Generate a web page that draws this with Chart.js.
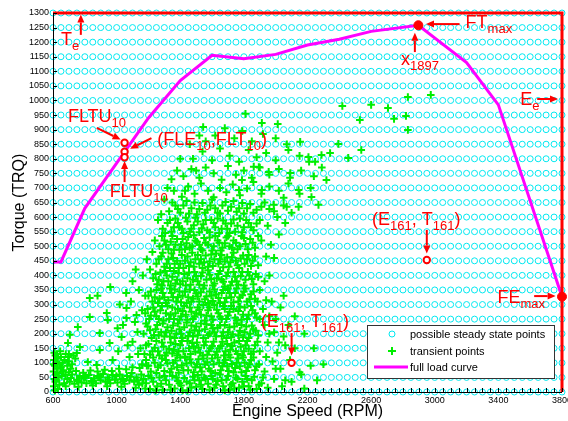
<!DOCTYPE html>
<html>
<head>
<meta charset="utf-8">
<script src="https://cdn.jsdelivr.net/npm/chart.js@4.4.1/dist/chart.umd.min.js"></script>
<style>
  html, body { margin: 0; padding: 0; background: #fff; }
  #wrap { width: 568px; height: 421px; }
</style>
</head>
<body>
<div id="wrap"><canvas id="torqueMap"></canvas></div>
<script>
// possible steady state points (grid)
const gridRpm = [600, 650, 700, 750, 800, 850, 900, 950, 1000, 1050, 1100, 1150, 1200, 1250, 1300, 1350,
    1400, 1450, 1500, 1550, 1600, 1650, 1700, 1750, 1800, 1850, 1900, 1950, 2000, 2050, 2100, 2150, 2200,
    2250, 2300, 2350, 2400, 2450, 2500, 2550, 2600, 2650, 2700, 2750, 2800, 2850, 2900, 2950, 3000, 3050,
    3100, 3150, 3200, 3250, 3300, 3350, 3400, 3450, 3500, 3550, 3600, 3650, 3700, 3750, 3800];
const gridTrq = [0, 50, 100, 150, 200, 250, 300, 350, 400, 450, 500, 550, 600, 650, 700, 750, 800, 850,
    900, 950, 1000, 1050, 1100, 1150, 1200, 1250, 1300];

// full load curve
const fullLoadRpm = [600, 650, 800, 1000, 1200, 1400, 1600, 1800, 2000, 2200, 2400, 2600, 2897, 3200, 3400, 3800];
const fullLoadTrq = [446, 446, 630, 785, 940, 1068, 1155, 1143, 1158, 1190, 1210, 1237, 1258, 1130, 985, 327];

// engine limits Te / Ee
const limitRpm = [600, 3800, 3800];
const limitTrq = [1300, 1300, 0];

// marked points
const openMarks = [[1050, 855], [1050, 824], [1050, 805], [2950, 453], [2100, 100]];
const filledMarks = [[2897, 1258], [3800, 327]];

const xTickLabels = [600, 1000, 1400, 1800, 2200, 2600, 3000, 3400, 3800];

// transient points [rpm, torque]
const transientPoints = [
    // left strip near idle
    [605, 20], [610, 45], [603, 70], [612, 90], [606, 110], [615, 125], [620, 100], [625, 80], [608, 135],
    [630, 115], [640, 95], [618, 60], [650, 120], [660, 100], [645, 140], [672, 110], [690, 90], [700, 105],
    [612, 5], [630, 10], [680, 130], [665, 75], [700, 130], [720, 95], [740, 115], [615, 35],
    [622, 130], [635, 50], [650, 85], [678, 60], [695, 120], [710, 80], [728, 125], [604, 95],
    // floor band
    [620, 40], [640, 25], [655, 55], [670, 30], [690, 45], [705, 35], [720, 60], [735, 28], [750, 42],
    [768, 55], [780, 33], [795, 48], [810, 30], [825, 58], [840, 38], [858, 47], [870, 30], [885, 55],
    [900, 40], [915, 62], [930, 35], [945, 50], [960, 30], [975, 58], [990, 42], [1005, 33], [1020, 60],
    [1035, 45], [1050, 28], [1065, 55], [1080, 40], [1095, 65], [1110, 35], [1125, 50], [1140, 25],
    [1155, 60], [1170, 45], [1185, 30], [1200, 55],
    [630, 65], [660, 70], [700, 68], [745, 72], [790, 66], [835, 74], [880, 70], [925, 76], [970, 72],
    [1015, 80], [1060, 78], [1100, 85], [1145, 82], [1190, 90],
    [680, 20], [760, 18], [850, 22], [940, 20], [1030, 18], [1120, 15], [1180, 12],
    [712, 48], [758, 38], [802, 52], [848, 35], [892, 50], [952, 42], [998, 55], [1042, 38], [1088, 52],
    [1132, 40], [1162, 30],
    // sparse low speed
    [756, 223], [831, 257], [894, 202], [706, 196], [769, 154], [819, 103], [894, 144], [956, 168],
    [1006, 219], [1062, 254], [944, 247], [1031, 189], [1100, 172], [1081, 120], [975, 110], [1131, 206],
    [694, 168], [750, 134], [875, 93], [938, 271], [1062, 288], [1125, 264], [880, 330], [960, 360],
    [1020, 300], [1060, 340], [1100, 380], [1120, 420], [831, 322],
    [1010, 140], [1040, 230], [1070, 160], [1090, 310], [1115, 240], [1135, 130], [1140, 350], [1160, 280],
    [1165, 400], [1180, 330], [1190, 455], [1210, 420], [1225, 480], [1240, 520],
    // core 0-60
    [1210, 10], [1230, 35], [1255, 20], [1270, 50], [1290, 8], [1310, 40], [1330, 25], [1350, 55],
    [1365, 12], [1385, 38], [1405, 22], [1425, 48], [1445, 5], [1460, 30], [1480, 52], [1500, 18],
    [1520, 40], [1540, 10], [1560, 45], [1575, 28], [1595, 55], [1615, 15], [1635, 38], [1650, 60],
    [1670, 20], [1690, 42], [1710, 8], [1730, 30], [1750, 50], [1770, 15], [1790, 35], [1810, 55],
    [1830, 20], [1850, 40], [1880, 10], [1910, 30], [1950, 15], [1990, 45], [2040, 20], [2100, 35], [2180, 12],
    [1220, 48], [1245, 5], [1280, 28], [1300, 55], [1340, 8], [1375, 50], [1395, 30], [1415, 5], [1440, 35],
    [1470, 15], [1490, 40], [1510, 58], [1530, 25], [1550, 50], [1585, 8], [1605, 45], [1625, 25], [1660, 40],
    [1680, 5], [1700, 55], [1720, 25], [1740, 12], [1760, 45], [1800, 20], [1820, 45], [1840, 8], [1865, 52],
    [1895, 25],
    // core 60-120
    [1160, 95], [1185, 110], [1215, 70], [1240, 100], [1260, 85], [1285, 115], [1300, 72], [1320, 98],
    [1345, 80], [1370, 108], [1390, 66], [1410, 92], [1430, 118], [1450, 75], [1470, 100], [1495, 85],
    [1515, 112], [1535, 70], [1555, 95], [1580, 80], [1600, 115], [1620, 65], [1645, 100], [1665, 88],
    [1685, 110], [1705, 72], [1725, 96], [1745, 82], [1765, 115], [1785, 68], [1805, 100], [1825, 85],
    [1845, 110], [1870, 75], [1895, 95], [1930, 70], [1980, 105], [2030, 80], [2090, 110], [2150, 68], [2220, 90],
    [1200, 90], [1230, 118], [1250, 65], [1275, 92], [1310, 110], [1335, 68], [1355, 100], [1380, 85],
    [1400, 118], [1420, 75], [1440, 98], [1460, 112], [1485, 68], [1505, 95], [1525, 85], [1545, 115],
    [1570, 102], [1590, 72], [1610, 95], [1635, 118], [1655, 75], [1675, 100], [1695, 88], [1715, 118],
    [1735, 68], [1755, 100], [1775, 88], [1795, 118], [1815, 72], [1835, 95], [1860, 118], [1880, 88],
    // core 120-180
    [1150, 150], [1175, 130], [1200, 165], [1225, 140], [1250, 175], [1270, 125], [1295, 155], [1315, 135],
    [1340, 170], [1360, 145], [1380, 125], [1400, 160], [1420, 140], [1445, 175], [1465, 130], [1485, 155],
    [1505, 170], [1525, 135], [1550, 160], [1570, 128], [1590, 150], [1610, 172], [1630, 138], [1655, 158],
    [1675, 125], [1695, 165], [1715, 145], [1740, 170], [1760, 130], [1780, 155], [1800, 140], [1820, 175],
    [1845, 130], [1870, 160], [1900, 140], [1950, 170], [2010, 135], [2060, 160], [2120, 150],
    [1185, 160], [1210, 128], [1240, 152], [1260, 140], [1285, 170], [1305, 125], [1330, 148], [1350, 132],
    [1370, 165], [1390, 140], [1410, 175], [1430, 122], [1455, 150], [1475, 168], [1495, 138], [1515, 152],
    [1540, 125], [1560, 172], [1580, 140], [1600, 158], [1620, 128], [1645, 150], [1665, 172], [1685, 140],
    [1705, 128], [1725, 158], [1750, 140], [1770, 175], [1790, 125], [1810, 160], [1830, 148], [1860, 138],
    [1885, 172],
    // core 180-240
    [1170, 200], [1195, 225], [1220, 185], [1245, 215], [1265, 195], [1290, 235], [1310, 205], [1335, 190],
    [1355, 228], [1375, 200], [1395, 215], [1415, 185], [1440, 238], [1460, 205], [1480, 190], [1500, 225],
    [1520, 210], [1545, 185], [1565, 232], [1585, 200], [1605, 218], [1625, 190], [1650, 228], [1670, 205],
    [1690, 185], [1710, 222], [1730, 198], [1755, 236], [1775, 210], [1795, 188], [1815, 225], [1840, 200],
    [1860, 215], [1890, 195], [1930, 230], [1990, 205], [2050, 190],
    [1185, 235], [1210, 212], [1235, 195], [1255, 230], [1280, 205], [1300, 190], [1320, 222], [1345, 210],
    [1365, 185], [1385, 235], [1405, 200], [1425, 222], [1450, 192], [1470, 228], [1490, 212], [1510, 195],
    [1530, 235], [1555, 215], [1575, 195], [1595, 230], [1615, 205], [1635, 220], [1660, 192], [1680, 230],
    [1700, 205], [1720, 188], [1740, 225], [1765, 195], [1785, 230], [1805, 205], [1830, 185], [1850, 228],
    [1875, 210],
    // core 240-300
    [1180, 270], [1205, 250], [1230, 290], [1250, 260], [1275, 280], [1295, 245], [1320, 295], [1340, 265],
    [1360, 250], [1385, 285], [1405, 260], [1425, 295], [1445, 248], [1470, 275], [1490, 258], [1510, 290],
    [1530, 265], [1555, 245], [1575, 280], [1595, 260], [1615, 298], [1640, 270], [1660, 250], [1680, 285],
    [1700, 262], [1720, 295], [1745, 255], [1765, 278], [1785, 248], [1805, 290], [1830, 265], [1855, 280],
    [1880, 255], [1920, 285], [1960, 260],
    [1195, 285], [1215, 262], [1240, 275], [1265, 250], [1285, 295], [1310, 270], [1330, 250], [1350, 290],
    [1370, 270], [1395, 248], [1415, 278], [1435, 265], [1460, 290], [1480, 250], [1500, 270], [1520, 282],
    [1545, 298], [1565, 262], [1585, 290], [1605, 248], [1630, 282], [1650, 258], [1670, 295], [1690, 250],
    [1710, 275], [1735, 285], [1755, 245], [1775, 292], [1795, 265], [1820, 250], [1845, 295], [1870, 270],
    [1900, 250],
    // core 300-360
    [1200, 330], [1225, 310], [1250, 350], [1270, 320], [1290, 340], [1310, 305], [1335, 355], [1355, 325],
    [1375, 310], [1395, 345], [1415, 330], [1440, 305], [1460, 352], [1480, 320], [1500, 338], [1520, 310],
    [1545, 355], [1565, 328], [1585, 345], [1605, 312], [1625, 335], [1650, 305], [1670, 350], [1690, 322],
    [1710, 340], [1735, 308], [1755, 355], [1775, 325], [1800, 345], [1820, 310], [1845, 335], [1870, 320],
    [1900, 350], [1940, 315],
    [1215, 345], [1240, 325], [1260, 305], [1280, 355], [1300, 325], [1325, 315], [1345, 340], [1365, 352],
    [1385, 325], [1405, 308], [1430, 345], [1450, 325], [1470, 310], [1490, 350], [1510, 328], [1530, 342],
    [1555, 318], [1575, 305], [1595, 330], [1615, 352], [1640, 322], [1660, 340], [1680, 308], [1700, 355],
    [1720, 325], [1745, 340], [1765, 310], [1790, 332], [1810, 355], [1835, 318], [1860, 345], [1885, 310],
    // core 360-420
    [1230, 390], [1255, 370], [1275, 410], [1295, 380], [1315, 400], [1340, 365], [1360, 415], [1380, 385],
    [1400, 370], [1425, 405], [1445, 390], [1465, 368], [1490, 412], [1510, 380], [1530, 398], [1550, 365],
    [1575, 418], [1595, 388], [1615, 372], [1640, 405], [1660, 385], [1680, 362], [1700, 410], [1725, 378],
    [1745, 395], [1765, 368], [1790, 412], [1810, 385], [1835, 400], [1860, 370], [1890, 395], [1930, 380],
    [1245, 405], [1265, 385], [1285, 365], [1305, 415], [1325, 380], [1350, 395], [1370, 372], [1390, 408],
    [1415, 380], [1435, 365], [1455, 410], [1480, 385], [1500, 398], [1520, 368], [1540, 410], [1565, 385],
    [1585, 402], [1605, 365], [1630, 390], [1650, 415], [1670, 378], [1690, 398], [1715, 365], [1735, 412],
    [1755, 380], [1780, 398], [1800, 365], [1825, 412], [1850, 388], [1875, 405],
    // core 420-480
    [1250, 440], [1280, 465], [1300, 430], [1325, 455], [1345, 475], [1365, 440], [1390, 425], [1410, 470],
    [1430, 450], [1455, 432], [1475, 478], [1495, 455], [1520, 440], [1540, 425], [1560, 468], [1585, 448],
    [1605, 432], [1625, 475], [1650, 455], [1670, 428], [1695, 462], [1715, 445], [1735, 478], [1760, 435],
    [1780, 458], [1805, 440], [1830, 470], [1855, 450], [1890, 435], [1940, 465],
    [1265, 455], [1290, 478], [1315, 440], [1335, 425], [1355, 460], [1380, 450], [1400, 440], [1420, 425],
    [1445, 465], [1465, 445], [1485, 430], [1510, 470], [1530, 455], [1550, 445], [1575, 430], [1595, 472],
    [1615, 455], [1640, 440], [1660, 470], [1680, 448], [1705, 430], [1725, 462], [1750, 450], [1770, 425],
    [1795, 468], [1820, 455], [1845, 432], [1870, 465],
    // core 480-540
    [1270, 500], [1300, 520], [1325, 490], [1350, 535], [1370, 505], [1395, 488], [1415, 525], [1440, 510],
    [1460, 495], [1485, 538], [1505, 515], [1530, 490], [1550, 528], [1575, 505], [1600, 485], [1620, 535],
    [1645, 512], [1665, 495], [1690, 530], [1710, 500], [1735, 520], [1760, 490], [1785, 535], [1810, 508],
    [1840, 525], [1870, 495], [1910, 520], [1970, 505],
    [1285, 535], [1310, 505], [1340, 515], [1360, 488], [1380, 525], [1405, 505], [1430, 490], [1450, 532],
    [1475, 500], [1495, 520], [1520, 505], [1540, 485], [1560, 512], [1585, 530], [1610, 500], [1635, 520],
    [1655, 485], [1680, 510], [1700, 535], [1725, 495], [1750, 512], [1775, 500], [1800, 528], [1825, 490],
    [1855, 512], [1890, 535],
    // core 540-600
    [1290, 560], [1320, 580], [1345, 550], [1370, 595], [1395, 565], [1420, 545], [1445, 585], [1470, 560],
    [1495, 598], [1520, 548], [1545, 575], [1570, 555], [1595, 590], [1620, 565], [1645, 545], [1670, 588],
    [1695, 560], [1720, 578], [1745, 550], [1775, 595], [1800, 565], [1830, 580], [1860, 555], [1900, 590],
    [1950, 570], [2010, 600],
    [1305, 545], [1335, 590], [1360, 565], [1385, 580], [1410, 560], [1435, 598], [1460, 550], [1485, 572],
    [1510, 585], [1535, 562], [1560, 590], [1585, 548], [1610, 580], [1635, 595], [1660, 560], [1685, 578],
    [1710, 545], [1735, 592], [1760, 570], [1790, 548], [1815, 590], [1845, 565], [1880, 578],
    // upper 600-660
    [1330, 620], [1370, 640], [1400, 615], [1440, 655], [1470, 630], [1505, 610], [1540, 648], [1570, 625],
    [1600, 660], [1635, 615], [1665, 640], [1700, 622], [1735, 655], [1770, 630], [1800, 612], [1840, 645],
    [1880, 625], [1930, 650], [1990, 620], [2050, 640], [2100, 615],
    [1988, 642], [2069, 635], [2144, 635], [2269, 642], [2050, 666], [2225, 669],
    [1350, 650], [1385, 628], [1420, 640], [1455, 612], [1490, 650], [1520, 628], [1555, 615], [1590, 640],
    [1620, 630], [1650, 612], [1685, 652], [1720, 635], [1755, 618], [1790, 648], [1820, 630], [1860, 615],
    [1910, 635], [1960, 628],
    // upper 660-720
    [1360, 690], [1410, 670], [1450, 705], [1490, 680], [1530, 715], [1575, 690], [1610, 668], [1650, 700],
    [1690, 685], [1730, 712], [1775, 675], [1820, 698], [1860, 720], [1910, 680], [1960, 705], [2020, 690],
    [2080, 715], [2150, 680], [2220, 700], [2144, 693], [1769, 693], [1913, 693], [1300, 660], [1320, 700],
    // upper 720-780
    [1420, 740], [1470, 765], [1520, 735], [1560, 770], [1610, 750], [1660, 728], [1700, 775], [1750, 745],
    [1800, 760], [1850, 735], [1900, 770], [1960, 745], [2020, 765], [2090, 735], [2160, 760], [2240, 740],
    [2290, 770], [1862, 773], [1894, 772], [1956, 755], [2092, 751], [2319, 727], [1788, 727], [1345, 730],
    [1380, 760], [1430, 690],
    // upper 780-840
    [1480, 800], [1540, 825], [1600, 795], [1650, 835], [1710, 810], [1770, 790], [1830, 830], [1880, 805],
    [1940, 820], [2000, 795], [2080, 830], [2150, 810], [2210, 790], [2206, 806], [2248, 790], [2288, 813],
    [2456, 803], [2342, 820], [2538, 830], [1400, 800], [1500, 760],
    // upper 840-1020
    [1560, 860], [1620, 880], [1680, 905], [1740, 870], [1790, 895], [1850, 860], [1920, 885], [2000, 870],
    [2070, 850], [2154, 858], [2394, 851], [1544, 909], [1810, 954], [1913, 923], [2013, 919], [2419, 981],
    [2529, 933], [2600, 985], [2706, 974], [2744, 937], [2819, 947], [2831, 1012], [2975, 1019], [2831, 899],
    [1460, 850], [1520, 880],
    // sparse high speed
    [2160, 60], [2240, 150], [2300, 95], [2180, 200], [2260, 40], [2000, 250], [2050, 330], [2120, 260],
    [1920, 50], [1940, 120], [1960, 200], [1975, 310], [2000, 80], [2020, 170], [2030, 290], [2060, 40],
    [2080, 230], [1960, 400], [1990, 460], [2020, 540], [2060, 580], [1260, 590], [1280, 610]
];

// annotation texts: [string, isSubscript]
const sub161 = [['(E', 0], ['161', 1], [', T', 0], ['161', 1], [')', 0]];
const notes = [
    { text: [['T', 0], ['e', 1]], at: [650, 1190], arrow: [[775, 1225], [775, 1295]] },
    { text: [['FT', 0], ['max', 1]], at: [3194, 1249], arrow: [[3156, 1262], [2945, 1262]] },
    { text: [['x', 0], ['1897', 1]], at: [2788, 1122], arrow: [[2875, 1166], [2875, 1232]] },
    { text: [['E', 0], ['e', 1]], at: [3538, 984], arrow: [[3644, 1005], [3775, 1005]] },
    { text: [['FE', 0], ['max', 1]], at: [3394, 305], arrow: [[3625, 329], [3760, 329]] },
    { text: sub161, at: [2606, 573], arrow: [[2950, 556], [2950, 475]] },
    { text: sub161, at: [1906, 223], arrow: [[2100, 202], [2100, 125]] },
    { text: [['FLTU', 0], ['10', 1]], at: [694, 926], arrow: [[875, 906], [1025, 866]] },
    { text: [['(FLE', 0], ['10', 1], [',FLT', 0], ['10', 1], [')', 0]], at: [1256, 847], arrow: [[1219, 871], [1085, 834]] },
    { text: [['FLTU', 0], ['10', 1]], at: [956, 669], arrow: [[1050, 720], [1050, 792]] }
];

const FONT = "'Liberation Sans', Arial, sans-serif";
const RED = '#ff0000';

function drawArrow(ctx, x1, y1, x2, y2) {
    const a = Math.atan2(y2 - y1, x2 - x1), h = 8, w = 3.5;
    const bx = x2 - h * Math.cos(a), by = y2 - h * Math.sin(a);
    ctx.beginPath();
    ctx.moveTo(x1, y1);
    ctx.lineTo(bx, by);
    ctx.stroke();
    ctx.beginPath();
    ctx.moveTo(x2, y2);
    ctx.lineTo(bx + w * Math.sin(a), by - w * Math.cos(a));
    ctx.lineTo(bx - w * Math.sin(a), by + w * Math.cos(a));
    ctx.closePath();
    ctx.fill();
}

const decorPlugin = {
    id: 'decor',
    afterDatasetsDraw(chart) {
        const { ctx, chartArea: area, scales: { x, y } } = chart;
        ctx.save();
        // inward ticks + axis lines
        ctx.strokeStyle = '#000';
        ctx.lineWidth = 1;
        ctx.beginPath();
        x.ticks.forEach(t => {
            const px = Math.round(x.getPixelForValue(t.value)) + 0.5;
            ctx.moveTo(px, area.bottom);
            ctx.lineTo(px, area.bottom - 4);
        });
        y.ticks.forEach(t => {
            const py = Math.round(y.getPixelForValue(t.value)) + 0.5;
            ctx.moveTo(area.left, py);
            ctx.lineTo(area.left + 4, py);
        });
        ctx.moveTo(Math.round(area.left) + 0.5, area.top);
        ctx.lineTo(Math.round(area.left) + 0.5, Math.round(area.bottom) + 0.5);
        ctx.lineTo(area.right, Math.round(area.bottom) + 0.5);
        ctx.stroke();

        // annotations
        ctx.fillStyle = RED;
        ctx.strokeStyle = RED;
        ctx.lineWidth = 2;
        ctx.textBaseline = 'alphabetic';
        ctx.textAlign = 'left';
        notes.forEach(n => {
            let px = x.getPixelForValue(n.at[0]);
            const py = y.getPixelForValue(n.at[1]);
            n.text.forEach(([s, isSub]) => {
                ctx.font = (isSub ? '13px ' : '18px ') + FONT;
                ctx.fillText(s, px, isSub ? py + 5 : py);
                px += ctx.measureText(s).width;
            });
            const [p1, p2] = n.arrow;
            drawArrow(ctx, x.getPixelForValue(p1[0]), y.getPixelForValue(p1[1]),
                x.getPixelForValue(p2[0]), y.getPixelForValue(p2[1]));
        });

        // legend box
        const lx = area.right - 195, ly = area.bottom - 67;
        ctx.fillStyle = '#fff';
        ctx.fillRect(lx, ly, 187, 53);
        ctx.strokeStyle = '#333';
        ctx.lineWidth = 1;
        ctx.strokeRect(lx + 0.5, ly + 0.5, 187, 53);
        ctx.font = '11px ' + FONT;
        ctx.fillStyle = '#000';
        ctx.textBaseline = 'middle';
        ctx.fillText('possible steady state points', lx + 43, ly + 10);
        ctx.fillText('transient points', lx + 43, ly + 27);
        ctx.fillText('full load curve', lx + 43, ly + 43);
        ctx.strokeStyle = '#00e8f0';
        ctx.beginPath();
        ctx.arc(lx + 25, ly + 9, 3, 0, Math.PI * 2);
        ctx.stroke();
        ctx.strokeStyle = '#00ee00';
        ctx.lineWidth = 2;
        ctx.beginPath();
        ctx.moveTo(lx + 21, ly + 26); ctx.lineTo(lx + 29, ly + 26);
        ctx.moveTo(lx + 25, ly + 22); ctx.lineTo(lx + 25, ly + 30);
        ctx.stroke();
        ctx.strokeStyle = '#ff00ff';
        ctx.lineWidth = 3;
        ctx.beginPath();
        ctx.moveTo(lx + 7, ly + 42); ctx.lineTo(lx + 41, ly + 42);
        ctx.stroke();
        ctx.restore();
    }
};

(function () {
    const gridPoints = [];
    gridTrq.forEach(t => gridRpm.forEach(r => gridPoints.push({ x: r, y: t })));
    const toXY = arr => arr.map(p => ({ x: p[0], y: p[1] }));

    new Chart(document.querySelector('#torqueMap'), {
        type: 'scatter',
        data: {
            datasets: [
                {
                    data: limitRpm.map((r, i) => ({ x: r, y: limitTrq[i] })),
                    showLine: true,
                    borderColor: RED,
                    borderWidth: 3,
                    pointRadius: 0,
                    clip: false,
                    order: 1
                },
                {
                    data: toXY(filledMarks),
                    pointRadius: 4.5,
                    backgroundColor: RED,
                    borderColor: RED,
                    borderWidth: 1,
                    clip: false,
                    order: 0
                },
                {
                    data: toXY(openMarks),
                    pointRadius: 3.2,
                    backgroundColor: '#fff',
                    borderColor: RED,
                    borderWidth: 2,
                    clip: false,
                    order: 0
                },
                {
                    data: fullLoadRpm.map((r, i) => ({ x: r, y: fullLoadTrq[i] })),
                    showLine: true,
                    borderColor: '#ff00ff',
                    borderWidth: 3,
                    pointRadius: 0,
                    clip: false,
                    order: 2
                },
                {
                    data: toXY(transientPoints),
                    pointStyle: 'cross',
                    pointRadius: 3.8,
                    borderColor: '#00ee00',
                    borderWidth: 2,
                    clip: false,
                    order: 3
                },
                {
                    data: gridPoints,
                    pointStyle: 'circle',
                    pointRadius: 3,
                    backgroundColor: 'rgba(0,0,0,0)',
                    borderColor: '#00e8f0',
                    borderWidth: 1,
                    clip: false,
                    order: 4
                }
            ]
        },
        options: {
            responsive: true,
            maintainAspectRatio: false,
            animation: false,
            events: [],
            layout: { padding: { top: 13, right: 3, left: 0, bottom: 0 } },
            scales: {
                x: {
                    type: 'linear',
                    min: 600,
                    max: 3800,
                    grid: { drawOnChartArea: false, drawTicks: false },
                    border: { display: false },
                    ticks: {
                        stepSize: 50,
                        autoSkip: false,
                        maxRotation: 0,
                        minRotation: 0,
                        padding: 3,
                        color: '#000',
                        font: { family: FONT, size: 9 },
                        callback: v => xTickLabels.includes(v) ? String(v) : ''
                    },
                    title: {
                        display: true,
                        text: 'Engine Speed (RPM)',
                        color: '#000',
                        font: { family: FONT, size: 16 },
                        padding: { top: 0, bottom: 0 }
                    },
                    afterFit: s => { s.height = 29; s.paddingLeft = 0; s.paddingRight = 0; }
                },
                y: {
                    min: 0,
                    max: 1300,
                    grid: { drawOnChartArea: false, drawTicks: false },
                    border: { display: false },
                    ticks: {
                        stepSize: 50,
                        autoSkip: false,
                        padding: 4,
                        color: '#000',
                        font: { family: FONT, size: 9 },
                        callback: v => String(v)
                    },
                    title: {
                        display: true,
                        text: 'Torque (TRQ)',
                        color: '#000',
                        font: { family: FONT, size: 16 },
                        padding: { top: 10, bottom: 0 }
                    },
                    afterFit: s => { s.width = 53; s.paddingTop = 0; s.paddingBottom = 0; }
                }
            },
            plugins: {
                legend: { display: false },
                tooltip: { enabled: false }
            }
        },
        plugins: [decorPlugin]
    });
})();
</script>
</body>
</html>
